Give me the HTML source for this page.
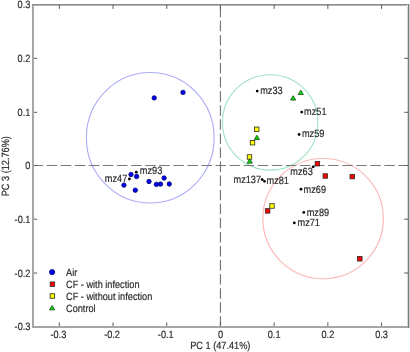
<!DOCTYPE html>
<html><head><meta charset="utf-8"><style>
html,body{margin:0;padding:0;background:#fff;overflow:hidden;}
svg{display:block;filter:blur(0.3px);} text{text-rendering:geometricPrecision;}
</style></head><body>
<svg width="410" height="352" viewBox="0 0 410 352">
<rect x="0" y="0" width="410" height="352" fill="#fff"/>
<ellipse cx="150.25" cy="137.75" rx="63.85" ry="65.25" fill="none" stroke="#adadf7" stroke-width="1.15"/>
<ellipse cx="270.2" cy="122.4" rx="47.7" ry="47.7" fill="none" stroke="#9ee3c2" stroke-width="1.1"/>
<ellipse cx="323.1" cy="218.6" rx="60.25" ry="60.1" fill="none" stroke="#fab8b8" stroke-width="1.15"/>
<line x1="32.6" y1="165.5" x2="408" y2="165.5" stroke="#787878" stroke-width="1.2" stroke-dasharray="10.5 3.57"/>
<line x1="220.45" y1="326.8" x2="220.45" y2="4.5" stroke="#787878" stroke-width="1.2" stroke-dasharray="10.5 3.57"/>
<rect x="32" y="4" width="2" height="324" fill="#a6a6a6"/>
<rect x="32" y="326" width="377" height="2" fill="#a6a6a6"/>
<rect x="407" y="6" width="1" height="320" fill="#d6d6d6"/>
<rect x="409" y="4" width="1" height="324" fill="#d0d0d0"/>
<rect x="32" y="4" width="377" height="1" fill="#8c8c8c"/>
<rect x="34" y="5" width="373" height="1" fill="#b4b4b4"/>
<rect x="408" y="4" width="1" height="324" fill="#7c7c7c"/>
<line x1="59.35" y1="326" x2="59.35" y2="322.40" stroke="#5a5a5a" stroke-width="1"/>
<line x1="59.35" y1="5" x2="59.35" y2="8.90" stroke="#5a5a5a" stroke-width="1"/>
<line x1="113.05" y1="326" x2="113.05" y2="322.40" stroke="#5a5a5a" stroke-width="1"/>
<line x1="113.05" y1="5" x2="113.05" y2="8.90" stroke="#5a5a5a" stroke-width="1"/>
<line x1="34" y1="273.00" x2="37.10" y2="273.00" stroke="#5a5a5a" stroke-width="1"/>
<line x1="408" y1="273.00" x2="404.20" y2="273.00" stroke="#5a5a5a" stroke-width="1"/>
<line x1="166.75" y1="326" x2="166.75" y2="322.40" stroke="#5a5a5a" stroke-width="1"/>
<line x1="166.75" y1="5" x2="166.75" y2="8.90" stroke="#5a5a5a" stroke-width="1"/>
<line x1="34" y1="219.20" x2="37.10" y2="219.20" stroke="#5a5a5a" stroke-width="1"/>
<line x1="408" y1="219.20" x2="404.20" y2="219.20" stroke="#5a5a5a" stroke-width="1"/>
<line x1="220.45" y1="326" x2="220.45" y2="322.40" stroke="#5a5a5a" stroke-width="1"/>
<line x1="220.45" y1="5" x2="220.45" y2="8.90" stroke="#5a5a5a" stroke-width="1"/>
<line x1="34" y1="165.50" x2="37.10" y2="165.50" stroke="#5a5a5a" stroke-width="1"/>
<line x1="408" y1="165.50" x2="404.20" y2="165.50" stroke="#5a5a5a" stroke-width="1"/>
<line x1="274.15" y1="326" x2="274.15" y2="322.40" stroke="#5a5a5a" stroke-width="1"/>
<line x1="274.15" y1="5" x2="274.15" y2="8.90" stroke="#5a5a5a" stroke-width="1"/>
<line x1="34" y1="112.30" x2="37.10" y2="112.30" stroke="#5a5a5a" stroke-width="1"/>
<line x1="408" y1="112.30" x2="404.20" y2="112.30" stroke="#5a5a5a" stroke-width="1"/>
<line x1="327.85" y1="326" x2="327.85" y2="322.40" stroke="#5a5a5a" stroke-width="1"/>
<line x1="327.85" y1="5" x2="327.85" y2="8.90" stroke="#5a5a5a" stroke-width="1"/>
<line x1="34" y1="58.30" x2="37.10" y2="58.30" stroke="#5a5a5a" stroke-width="1"/>
<line x1="408" y1="58.30" x2="404.20" y2="58.30" stroke="#5a5a5a" stroke-width="1"/>
<line x1="381.55" y1="326" x2="381.55" y2="322.40" stroke="#5a5a5a" stroke-width="1"/>
<line x1="381.55" y1="5" x2="381.55" y2="8.90" stroke="#5a5a5a" stroke-width="1"/>
<text transform="translate(58.35,337.80) scale(0.875,1)" text-anchor="middle" font-family="Liberation Sans, sans-serif" font-size="10.5" fill="#2b2b2b" stroke="#2b2b2b" stroke-width="0.18">-0.3</text>
<text transform="translate(30.40,330.15) scale(0.875,1)" text-anchor="end" font-family="Liberation Sans, sans-serif" font-size="10.5" fill="#2b2b2b" stroke="#2b2b2b" stroke-width="0.18">-0.3</text>
<text transform="translate(112.05,337.80) scale(0.875,1)" text-anchor="middle" font-family="Liberation Sans, sans-serif" font-size="10.5" fill="#2b2b2b" stroke="#2b2b2b" stroke-width="0.18">-0.2</text>
<text transform="translate(30.40,276.50) scale(0.875,1)" text-anchor="end" font-family="Liberation Sans, sans-serif" font-size="10.5" fill="#2b2b2b" stroke="#2b2b2b" stroke-width="0.18">-0.2</text>
<text transform="translate(165.75,337.80) scale(0.875,1)" text-anchor="middle" font-family="Liberation Sans, sans-serif" font-size="10.5" fill="#2b2b2b" stroke="#2b2b2b" stroke-width="0.18">-0.1</text>
<text transform="translate(30.40,222.85) scale(0.875,1)" text-anchor="end" font-family="Liberation Sans, sans-serif" font-size="10.5" fill="#2b2b2b" stroke="#2b2b2b" stroke-width="0.18">-0.1</text>
<text transform="translate(220.45,337.80) scale(0.875,1)" text-anchor="middle" font-family="Liberation Sans, sans-serif" font-size="10.5" fill="#2b2b2b" stroke="#2b2b2b" stroke-width="0.18">0</text>
<text transform="translate(30.40,169.20) scale(0.875,1)" text-anchor="end" font-family="Liberation Sans, sans-serif" font-size="10.5" fill="#2b2b2b" stroke="#2b2b2b" stroke-width="0.18">0</text>
<text transform="translate(274.15,337.80) scale(0.875,1)" text-anchor="middle" font-family="Liberation Sans, sans-serif" font-size="10.5" fill="#2b2b2b" stroke="#2b2b2b" stroke-width="0.18">0.1</text>
<text transform="translate(30.40,115.55) scale(0.875,1)" text-anchor="end" font-family="Liberation Sans, sans-serif" font-size="10.5" fill="#2b2b2b" stroke="#2b2b2b" stroke-width="0.18">0.1</text>
<text transform="translate(327.85,337.80) scale(0.875,1)" text-anchor="middle" font-family="Liberation Sans, sans-serif" font-size="10.5" fill="#2b2b2b" stroke="#2b2b2b" stroke-width="0.18">0.2</text>
<text transform="translate(30.40,61.90) scale(0.875,1)" text-anchor="end" font-family="Liberation Sans, sans-serif" font-size="10.5" fill="#2b2b2b" stroke="#2b2b2b" stroke-width="0.18">0.2</text>
<text transform="translate(381.55,337.80) scale(0.875,1)" text-anchor="middle" font-family="Liberation Sans, sans-serif" font-size="10.5" fill="#2b2b2b" stroke="#2b2b2b" stroke-width="0.18">0.3</text>
<text transform="translate(30.40,8.25) scale(0.875,1)" text-anchor="end" font-family="Liberation Sans, sans-serif" font-size="10.5" fill="#2b2b2b" stroke="#2b2b2b" stroke-width="0.18">0.3</text>
<text transform="translate(220.30,349.00) scale(0.875,1)" text-anchor="middle" font-family="Liberation Sans, sans-serif" font-size="10.5" fill="#2b2b2b" stroke="#2b2b2b" stroke-width="0.18">PC 1 (47.41%)</text>
<text transform="translate(9.1,166.2) rotate(-90) scale(0.875,1)" text-anchor="middle" font-family="Liberation Sans, sans-serif" font-size="10.5" fill="#2b2b2b" stroke="#2b2b2b" stroke-width="0.18">PC 3 (12.76%)</text>
<circle cx="154.2" cy="97.9" r="2.2" fill="#0000ff" stroke="#000060" stroke-width="0.8"/>
<circle cx="183.0" cy="92.4" r="2.2" fill="#0000ff" stroke="#000060" stroke-width="0.8"/>
<circle cx="131.0" cy="174.5" r="2.2" fill="#0000ff" stroke="#000060" stroke-width="0.8"/>
<circle cx="136.6" cy="176.5" r="2.2" fill="#0000ff" stroke="#000060" stroke-width="0.8"/>
<circle cx="123.9" cy="185.1" r="2.2" fill="#0000ff" stroke="#000060" stroke-width="0.8"/>
<circle cx="135.3" cy="190.2" r="2.2" fill="#0000ff" stroke="#000060" stroke-width="0.8"/>
<circle cx="149.0" cy="181.5" r="2.2" fill="#0000ff" stroke="#000060" stroke-width="0.8"/>
<circle cx="156.4" cy="184.4" r="2.2" fill="#0000ff" stroke="#000060" stroke-width="0.8"/>
<circle cx="160.5" cy="184.1" r="2.2" fill="#0000ff" stroke="#000060" stroke-width="0.8"/>
<circle cx="164.1" cy="178.0" r="2.2" fill="#0000ff" stroke="#000060" stroke-width="0.8"/>
<circle cx="169.3" cy="184.0" r="2.2" fill="#0000ff" stroke="#000060" stroke-width="0.8"/>
<rect x="315.15" y="161.45" width="4.5" height="4.5" fill="#ff0000" stroke="#2a2a2a" stroke-width="0.8"/>
<rect x="323.05" y="173.75" width="4.5" height="4.5" fill="#ff0000" stroke="#2a2a2a" stroke-width="0.8"/>
<rect x="350.05" y="174.35" width="4.5" height="4.5" fill="#ff0000" stroke="#2a2a2a" stroke-width="0.8"/>
<rect x="265.35" y="208.65" width="4.5" height="4.5" fill="#ff0000" stroke="#2a2a2a" stroke-width="0.8"/>
<rect x="357.55" y="256.55" width="4.5" height="4.5" fill="#ff0000" stroke="#2a2a2a" stroke-width="0.8"/>
<rect x="254.45" y="127.05" width="4.5" height="4.5" fill="#ffff00" stroke="#2a2a2a" stroke-width="0.8"/>
<rect x="250.25" y="140.45" width="4.5" height="4.5" fill="#ffff00" stroke="#2a2a2a" stroke-width="0.8"/>
<rect x="247.25" y="154.75" width="4.5" height="4.5" fill="#ffff00" stroke="#2a2a2a" stroke-width="0.8"/>
<rect x="269.75" y="203.75" width="4.5" height="4.5" fill="#ffff00" stroke="#2a2a2a" stroke-width="0.8"/>
<polygon points="300.80,90.25 303.40,94.55 298.20,94.55" fill="#00e600" stroke="#154015" stroke-width="0.8"/>
<polygon points="293.10,95.75 295.70,100.05 290.50,100.05" fill="#00e600" stroke="#154015" stroke-width="0.8"/>
<polygon points="256.90,135.25 259.50,139.55 254.30,139.55" fill="#00e600" stroke="#154015" stroke-width="0.8"/>
<polygon points="249.70,158.85 252.30,163.15 247.10,163.15" fill="#00e600" stroke="#154015" stroke-width="0.8"/>
<circle cx="257.2" cy="91.1" r="1.4" fill="#000"/>
<text transform="translate(260.20,94.00) scale(0.875,1)" text-anchor="start" font-family="Liberation Sans, sans-serif" font-size="10.5" fill="#2b2b2b" stroke="#2b2b2b" stroke-width="0.18">mz33</text>
<circle cx="301.7" cy="112.1" r="1.4" fill="#000"/>
<text transform="translate(304.10,115.00) scale(0.875,1)" text-anchor="start" font-family="Liberation Sans, sans-serif" font-size="10.5" fill="#2b2b2b" stroke="#2b2b2b" stroke-width="0.18">mz51</text>
<circle cx="299.1" cy="134.5" r="1.4" fill="#000"/>
<text transform="translate(301.90,137.20) scale(0.875,1)" text-anchor="start" font-family="Liberation Sans, sans-serif" font-size="10.5" fill="#2b2b2b" stroke="#2b2b2b" stroke-width="0.18">mz59</text>
<circle cx="313.2" cy="166.8" r="1.4" fill="#000"/>
<text transform="translate(290.30,174.50) scale(0.875,1)" text-anchor="start" font-family="Liberation Sans, sans-serif" font-size="10.5" fill="#2b2b2b" stroke="#2b2b2b" stroke-width="0.18">mz63</text>
<circle cx="262.2" cy="179.6" r="1.4" fill="#000"/>
<text transform="translate(233.50,182.80) scale(0.875,1)" text-anchor="start" font-family="Liberation Sans, sans-serif" font-size="10.5" fill="#2b2b2b" stroke="#2b2b2b" stroke-width="0.18">mz137</text>
<circle cx="264.5" cy="181.3" r="1.4" fill="#000"/>
<text transform="translate(266.50,184.10) scale(0.875,1)" text-anchor="start" font-family="Liberation Sans, sans-serif" font-size="10.5" fill="#2b2b2b" stroke="#2b2b2b" stroke-width="0.18">mz81</text>
<circle cx="301.0" cy="189.2" r="1.4" fill="#000"/>
<text transform="translate(303.60,192.50) scale(0.875,1)" text-anchor="start" font-family="Liberation Sans, sans-serif" font-size="10.5" fill="#2b2b2b" stroke="#2b2b2b" stroke-width="0.18">mz69</text>
<circle cx="303.8" cy="212.4" r="1.4" fill="#000"/>
<text transform="translate(306.70,215.50) scale(0.875,1)" text-anchor="start" font-family="Liberation Sans, sans-serif" font-size="10.5" fill="#2b2b2b" stroke="#2b2b2b" stroke-width="0.18">mz89</text>
<circle cx="294.3" cy="222.9" r="1.4" fill="#000"/>
<text transform="translate(297.50,226.20) scale(0.875,1)" text-anchor="start" font-family="Liberation Sans, sans-serif" font-size="10.5" fill="#2b2b2b" stroke="#2b2b2b" stroke-width="0.18">mz71</text>
<circle cx="136.3" cy="172.2" r="1.4" fill="#000"/>
<text transform="translate(139.80,173.90) scale(0.875,1)" text-anchor="start" font-family="Liberation Sans, sans-serif" font-size="10.5" fill="#2b2b2b" stroke="#2b2b2b" stroke-width="0.18">mz93</text>
<circle cx="129.4" cy="179.0" r="1.4" fill="#000"/>
<text transform="translate(104.80,181.60) scale(0.875,1)" text-anchor="start" font-family="Liberation Sans, sans-serif" font-size="10.5" fill="#2b2b2b" stroke="#2b2b2b" stroke-width="0.18">mz47</text>
<circle cx="52.1" cy="272.1" r="2.6" fill="#0000ff" stroke="#000060" stroke-width="0.8"/>
<rect x="50.15" y="281.95" width="4.5" height="4.5" fill="#ff0000" stroke="#2a2a2a" stroke-width="0.8"/>
<rect x="50.15" y="293.75" width="4.5" height="4.5" fill="#ffff00" stroke="#2a2a2a" stroke-width="0.8"/>
<polygon points="52.15,305.55 54.75,309.85 49.55,309.85" fill="#00e600" stroke="#154015" stroke-width="0.8"/>
<text transform="translate(66.00,275.80) scale(0.875,1)" text-anchor="start" font-family="Liberation Sans, sans-serif" font-size="10.5" fill="#2b2b2b" stroke="#2b2b2b" stroke-width="0.18">Air</text>
<text transform="translate(66.00,287.75) scale(0.875,1)" text-anchor="start" font-family="Liberation Sans, sans-serif" font-size="10.5" fill="#2b2b2b" stroke="#2b2b2b" stroke-width="0.18">CF - with infection</text>
<text transform="translate(66.00,299.70) scale(0.875,1)" text-anchor="start" font-family="Liberation Sans, sans-serif" font-size="10.5" fill="#2b2b2b" stroke="#2b2b2b" stroke-width="0.18">CF - without infection</text>
<text transform="translate(66.00,311.65) scale(0.875,1)" text-anchor="start" font-family="Liberation Sans, sans-serif" font-size="10.5" fill="#2b2b2b" stroke="#2b2b2b" stroke-width="0.18">Control</text>
</svg>
</body></html>
